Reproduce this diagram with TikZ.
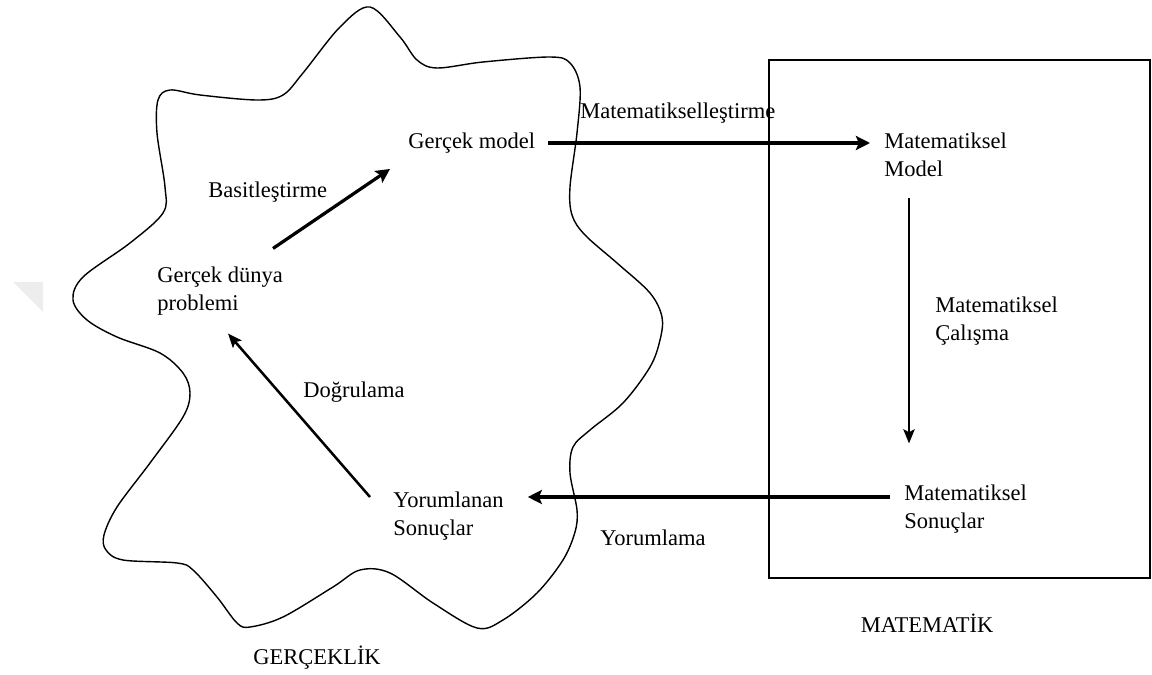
\documentclass[tikz,border=0pt]{standalone}
\usepackage{fontspec}
\setmainfont{Liberation Serif}
\usetikzlibrary{arrows.meta,calc}
\begin{document}
\begin{tikzpicture}[x=0.025cm,y=-0.025cm,
  lbl/.style={font=\fontsize{16}{20}\selectfont, inner sep=0pt, align=left, anchor=west},
  arr/.style={line width=2.3pt, -{Stealth[length=10pt,width=10pt,inset=2pt]}},
  arrthin/.style={line width=1.8pt, -{Stealth[length=10pt,width=8pt,inset=2pt]}},
  blob/.style={line width=1pt},
  frame/.style={line width=1.1pt}]
\useasboundingbox (0,0) rectangle (1152,675);
% faint watermark fragment
\fill[black!7] (13,282) -- (43,282) -- (43,312) -- cycle;
% reality blob
\draw[blob] plot[smooth cycle, tension=0.55] coordinates {
(370,7) (400,37) (417,60) (437,68) (483,62) (550,57) (570,63) (580,87)
(577,133) (570,187) (572,215) (585,235) (617,263) (650,293) (662,317)
(660,340) (650,367) (623,403) (590,430) (573,447) (570,473) (577,510)
(575,532) (563,560) (537,593) (503,620) (477,628) (433,603) (390,573)
(360,570) (333,587) (283,617) (250,627) (237,623) (217,597) (193,570)
(177,563) (123,560) (106,550) (104,535) (117,507) (150,463) (183,417)
(190,393) (183,373) (160,353) (117,337) (87,320) (73,300) (83,277)
(130,243) (163,213) (165,187) (157,133) (158,100) (170,90) (200,95)
(257,100) (283,95) (303,73) (340,27)};
% mathematics frame
\draw[frame] (769,60) rectangle (1150,578);
% nodes
\node[lbl] (gm) at (408,143) {Gerçek model};
\node[lbl] (mm) at (884,155) {Matematiksel\\Model};
\node[lbl] (ms) at (904,509) {Matematiksel\\Sonuçlar};
\node[lbl] (ys) at (393,516) {Yorumlanan\\Sonuçlar};
\node[lbl] (gd) at (157,291) {Gerçek dünya\\problemi};
% labels
\node[lbl] (l1) at (580,113) {Matematikselleştirme};
\node[lbl] (l2) at (935,321) {Matematiksel\\Çalışma};
\node[lbl] (l3) at (600,538) {Yorumlama};
\node[lbl] (l4) at (303,392) {Doğrulama};
\node[lbl] (l5) at (208,192) {Basitleştirme};
\node[lbl,anchor=center] (t1) at (317,658) {GERÇEKLİK};
\node[lbl,anchor=center] (t2) at (927,623) {MATEMATİK};
% connectors
\draw[arr] ($(gm.east)+(13,0)$) -- ($(gm.east -| mm.west)+(-14,0)$);
\draw[arrthin] ($(mm.south west)+(25,21)$) -- ($(ms.north west)+(5,-41)$);
\draw[arr] ($(ms.west)+(-14,-12)$) -- ($(ys.east)+(24,-19)$);
\draw[arrthin] ($(ys.west)+(-23,-19)$) -- ($(gd.south west)+(71,18)$);
\draw[arr] ($(gd.north west)+(116,-18)$) -- ($(gm.west)+(-18,26)$);
\end{tikzpicture}
\end{document}
